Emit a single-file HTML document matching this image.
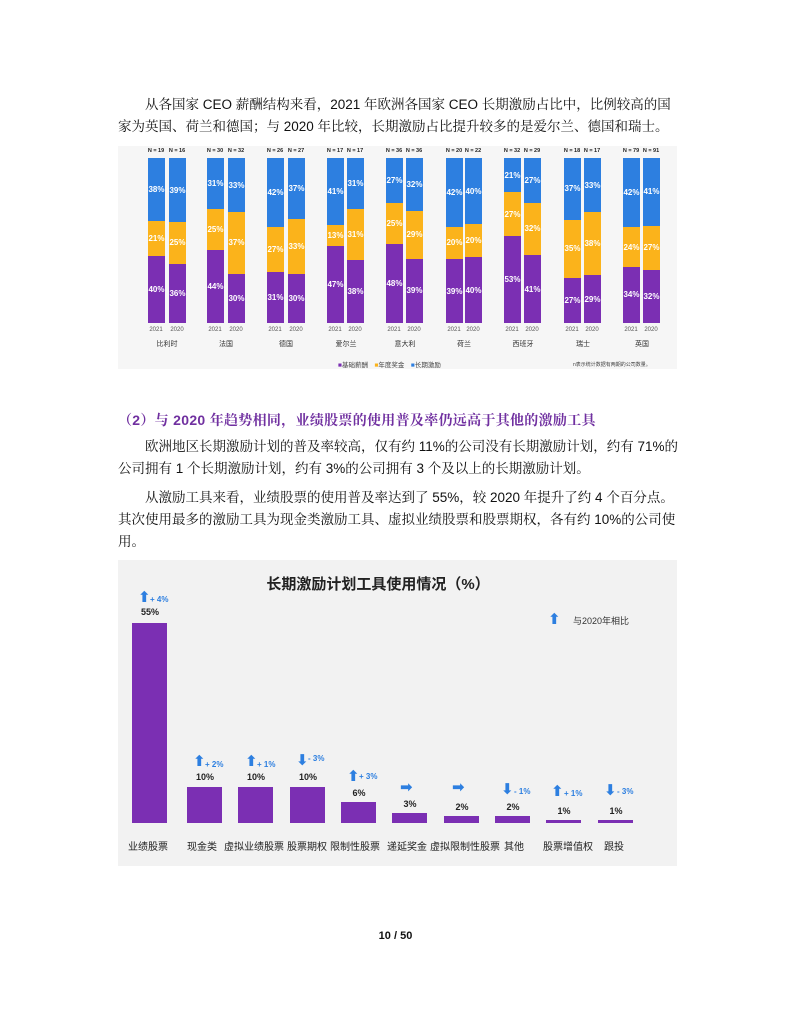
<!DOCTYPE html>
<html><head><meta charset="utf-8"><style>
*{margin:0;padding:0;box-sizing:border-box}
body{width:791px;height:1024px;background:#fff;position:relative;font-family:"Liberation Sans","Noto Sans CJK SC",sans-serif;color:#111;overflow:hidden}
.p{position:absolute;left:118px;font-size:13.5px;line-height:22px;white-space:nowrap;font-family:"Liberation Sans","Noto Serif CJK SC",serif}
.h{position:absolute;left:118px;font-size:14px;color:#7030a0;font-weight:bold;white-space:nowrap;letter-spacing:0.3px;font-family:"Liberation Sans","Noto Serif CJK SC",serif}
#c1{position:absolute;left:118px;top:146px;width:559px;height:223px;background:#f6f6f6}
.bar{position:absolute;top:12px;width:17px;height:165px;display:flex;flex-direction:column}
.bar div{display:flex;align-items:center;justify-content:center;color:#fff;font-size:8px;font-weight:bold}
.b{background:#2d7fe0}.y{background:#fbb31b}.u{background:#7b2fb3}
.n{position:absolute;top:2px;width:20px;text-align:center;font-size:5.5px;font-weight:bold;color:#222}
.yr{position:absolute;top:181px;width:20px;text-align:center;font-size:6px;color:#555}
.cn{position:absolute;top:193px;width:60px;text-align:center;font-size:7px;color:#333}
#c2{position:absolute;left:118px;top:560px;width:559px;height:306px;background:#f2f2f2}
.v{position:absolute;background:#7b2fb3;width:35px;bottom:43px}
.vl{position:absolute;width:50px;text-align:center;font-size:9px;font-weight:bold;color:#222}
.lb{position:absolute;top:278px;width:100px;text-align:center;font-size:10px;color:#222;white-space:nowrap}
.ch{position:absolute;font-size:8px;color:#2d7fe0;font-weight:bold}
.ar{position:absolute;color:#2d7fe0;font-size:15px;font-weight:bold;line-height:15px;font-family:"DejaVu Sans",sans-serif}
</style></head><body>
<div class="p" style="top:94px">&emsp;&emsp;从各国家 CEO 薪酬结构来看，2021 年欧洲各国家 CEO 长期激励占比中，比例较高的国<br>家为英国、荷兰和德国；与 2020 年比较，长期激励占比提升较多的是爱尔兰、德国和瑞士。</div>

<div id="c1">
<div class="n" style="left:28px">N = 19</div><div class="n" style="left:49px">N = 16</div>
<div class="bar" style="left:30px"><div class="b" style="flex:38">38%</div><div class="y" style="flex:21">21%</div><div class="u" style="flex:40">40%</div></div>
<div class="bar" style="left:51px"><div class="b" style="flex:39">39%</div><div class="y" style="flex:25">25%</div><div class="u" style="flex:36">36%</div></div>
<div class="yr" style="left:28px">2021</div><div class="yr" style="left:49px">2020</div><div class="cn" style="left:19px">比利时</div>

<div class="n" style="left:87px">N = 30</div><div class="n" style="left:108px">N = 32</div>
<div class="bar" style="left:89px"><div class="b" style="flex:31">31%</div><div class="y" style="flex:25">25%</div><div class="u" style="flex:44">44%</div></div>
<div class="bar" style="left:110px"><div class="b" style="flex:33">33%</div><div class="y" style="flex:37">37%</div><div class="u" style="flex:30">30%</div></div>
<div class="yr" style="left:87px">2021</div><div class="yr" style="left:108px">2020</div><div class="cn" style="left:78px">法国</div>

<div class="n" style="left:147px">N = 26</div><div class="n" style="left:168px">N = 27</div>
<div class="bar" style="left:149px"><div class="b" style="flex:42">42%</div><div class="y" style="flex:27">27%</div><div class="u" style="flex:31">31%</div></div>
<div class="bar" style="left:170px"><div class="b" style="flex:37">37%</div><div class="y" style="flex:33">33%</div><div class="u" style="flex:30">30%</div></div>
<div class="yr" style="left:147px">2021</div><div class="yr" style="left:168px">2020</div><div class="cn" style="left:138px">德国</div>

<div class="n" style="left:207px">N = 17</div><div class="n" style="left:227px">N = 17</div>
<div class="bar" style="left:209px"><div class="b" style="flex:41">41%</div><div class="y" style="flex:13">13%</div><div class="u" style="flex:47">47%</div></div>
<div class="bar" style="left:229px"><div class="b" style="flex:31">31%</div><div class="y" style="flex:31">31%</div><div class="u" style="flex:38">38%</div></div>
<div class="yr" style="left:207px">2021</div><div class="yr" style="left:227px">2020</div><div class="cn" style="left:198px">爱尔兰</div>

<div class="n" style="left:266px">N = 36</div><div class="n" style="left:286px">N = 36</div>
<div class="bar" style="left:268px"><div class="b" style="flex:27">27%</div><div class="y" style="flex:25">25%</div><div class="u" style="flex:48">48%</div></div>
<div class="bar" style="left:288px"><div class="b" style="flex:32">32%</div><div class="y" style="flex:29">29%</div><div class="u" style="flex:39">39%</div></div>
<div class="yr" style="left:266px">2021</div><div class="yr" style="left:286px">2020</div><div class="cn" style="left:257px">意大利</div>

<div class="n" style="left:326px">N = 20</div><div class="n" style="left:345px">N = 22</div>
<div class="bar" style="left:328px"><div class="b" style="flex:42">42%</div><div class="y" style="flex:20">20%</div><div class="u" style="flex:39">39%</div></div>
<div class="bar" style="left:347px"><div class="b" style="flex:40">40%</div><div class="y" style="flex:20">20%</div><div class="u" style="flex:40">40%</div></div>
<div class="yr" style="left:326px">2021</div><div class="yr" style="left:345px">2020</div><div class="cn" style="left:316px">荷兰</div>

<div class="n" style="left:384px">N = 32</div><div class="n" style="left:404px">N = 29</div>
<div class="bar" style="left:386px"><div class="b" style="flex:21">21%</div><div class="y" style="flex:27">27%</div><div class="u" style="flex:53">53%</div></div>
<div class="bar" style="left:406px"><div class="b" style="flex:27">27%</div><div class="y" style="flex:32">32%</div><div class="u" style="flex:41">41%</div></div>
<div class="yr" style="left:384px">2021</div><div class="yr" style="left:404px">2020</div><div class="cn" style="left:375px">西班牙</div>

<div class="n" style="left:444px">N = 18</div><div class="n" style="left:464px">N = 17</div>
<div class="bar" style="left:446px"><div class="b" style="flex:37">37%</div><div class="y" style="flex:35">35%</div><div class="u" style="flex:27">27%</div></div>
<div class="bar" style="left:466px"><div class="b" style="flex:33">33%</div><div class="y" style="flex:38">38%</div><div class="u" style="flex:29">29%</div></div>
<div class="yr" style="left:444px">2021</div><div class="yr" style="left:464px">2020</div><div class="cn" style="left:435px">瑞士</div>

<div class="n" style="left:503px">N = 79</div><div class="n" style="left:523px">N = 91</div>
<div class="bar" style="left:505px"><div class="b" style="flex:42">42%</div><div class="y" style="flex:24">24%</div><div class="u" style="flex:34">34%</div></div>
<div class="bar" style="left:525px"><div class="b" style="flex:41">41%</div><div class="y" style="flex:27">27%</div><div class="u" style="flex:32">32%</div></div>
<div class="yr" style="left:503px">2021</div><div class="yr" style="left:523px">2020</div><div class="cn" style="left:494px">英国</div>

<div style="position:absolute;top:213px;left:220px;font-size:6.5px;color:#444"><span style="color:#7b2fb3">■</span>基础薪酬&emsp;<span style="color:#fbb31b">■</span>年度奖金&emsp;<span style="color:#2d7fe0">■</span>长期激励</div>
<div style="position:absolute;top:215px;left:455px;font-size:5px;color:#444">n表示统计数据有两期的公司数量。</div>
</div>

<div class="h" style="top:410px">（2）与 2020 年趋势相同，业绩股票的使用普及率仍远高于其他的激励工具</div>
<div class="p" style="top:436px">&emsp;&emsp;欧洲地区长期激励计划的普及率较高，仅有约 11%的公司没有长期激励计划，约有 71%的<br>公司拥有 1 个长期激励计划，约有 3%的公司拥有 3 个及以上的长期激励计划。</div>
<div class="p" style="top:487px">&emsp;&emsp;从激励工具来看，业绩股票的使用普及率达到了 55%，较 2020 年提升了约 4 个百分点。<br>其次使用最多的激励工具为现金类激励工具、虚拟业绩股票和股票期权，各有约 10%的公司使<br>用。</div>

<div id="c2">
<div style="position:absolute;top:13px;left:0;width:520px;text-align:center;font-size:15px;font-weight:bold;color:#222">长期激励计划工具使用情况（%）</div>
<div class="ar" style="left:430px;top:52px">⬆</div><div style="position:absolute;left:455px;top:54px;font-size:9px;color:#333">与2020年相比</div>

<div class="v" style="left:14px;height:200px"></div><div class="vl" style="left:7px;top:47px">55%</div><div class="ar" style="left:20px;top:30px">⬆</div><div class="ch" style="left:32px;top:35px">+ 4%</div>
<div class="v" style="left:69px;height:36px"></div><div class="vl" style="left:62px;top:212px">10%</div><div class="ar" style="left:75px;top:194px">⬆</div><div class="ch" style="left:87px;top:200px">+ 2%</div>
<div class="v" style="left:120px;height:36px"></div><div class="vl" style="left:113px;top:212px">10%</div><div class="ar" style="left:127px;top:194px">⬆</div><div class="ch" style="left:139px;top:200px">+ 1%</div>
<div class="v" style="left:172px;height:36px"></div><div class="vl" style="left:165px;top:212px">10%</div><div class="ar" style="left:178px;top:193px">⬇</div><div class="ch" style="left:190px;top:194px">- 3%</div>
<div class="v" style="left:223px;height:21px"></div><div class="vl" style="left:216px;top:228px">6%</div><div class="ar" style="left:229px;top:209px">⬆</div><div class="ch" style="left:241px;top:212px">+ 3%</div>
<div class="v" style="left:274px;height:10px"></div><div class="vl" style="left:267px;top:239px">3%</div><div class="ar" style="left:282px;top:220px">➡</div>
<div class="v" style="left:326px;height:7px"></div><div class="vl" style="left:319px;top:242px">2%</div><div class="ar" style="left:334px;top:220px">➡</div>
<div class="v" style="left:377px;height:7px"></div><div class="vl" style="left:370px;top:242px">2%</div><div class="ar" style="left:383px;top:222px">⬇</div><div class="ch" style="left:396px;top:227px">- 1%</div>
<div class="v" style="left:428px;height:3px"></div><div class="vl" style="left:421px;top:246px">1%</div><div class="ar" style="left:433px;top:224px">⬆</div><div class="ch" style="left:446px;top:229px">+ 1%</div>
<div class="v" style="left:480px;height:3px"></div><div class="vl" style="left:473px;top:246px">1%</div><div class="ar" style="left:486px;top:223px">⬇</div><div class="ch" style="left:499px;top:227px">- 3%</div>

<div class="lb" style="left:-20px">业绩股票</div>
<div class="lb" style="left:34px">现金类</div>
<div class="lb" style="left:86px">虚拟业绩股票</div>
<div class="lb" style="left:139px">股票期权</div>
<div class="lb" style="left:187px">限制性股票</div>
<div class="lb" style="left:239px">递延奖金</div>
<div class="lb" style="left:297px">虚拟限制性股票</div>
<div class="lb" style="left:346px">其他</div>
<div class="lb" style="left:400px">股票增值权</div>
<div class="lb" style="left:446px">跟投</div>
</div>

<div style="position:absolute;top:930px;left:0;width:791px;text-align:center;font-size:11px;font-weight:bold">10 / 50</div>
</body></html>
